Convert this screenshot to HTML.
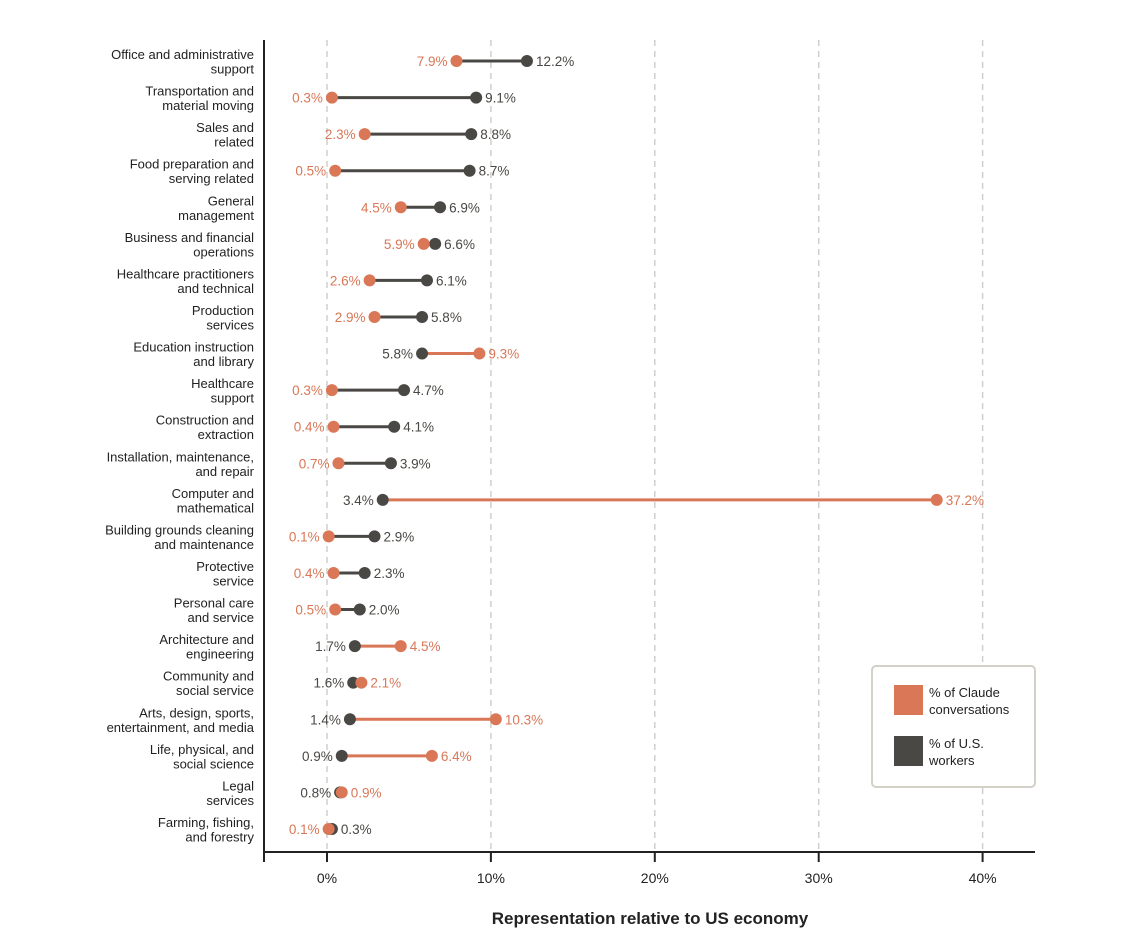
<!DOCTYPE html>
<html><head><meta charset="utf-8"><style>
body{margin:0;background:#fff;}
svg{display:block;font-family:"Liberation Sans",sans-serif;}
</style></head><body>
<svg id="chart" width="1148" height="948"></svg>
<script>
const categories=[["Office and administrative","support"],["Transportation and","material moving"],["Sales and","related"],["Food preparation and","serving related"],["General","management"],["Business and financial","operations"],["Healthcare practitioners","and technical"],["Production","services"],["Education instruction","and library"],["Healthcare","support"],["Construction and","extraction"],["Installation, maintenance,","and repair"],["Computer and","mathematical"],["Building grounds cleaning","and maintenance"],["Protective","service"],["Personal care","and service"],["Architecture and","engineering"],["Community and","social service"],["Arts, design, sports,","entertainment, and media"],["Life, physical, and","social science"],["Legal","services"],["Farming, fishing,","and forestry"]];
const claudeValues=[7.9,0.3,2.3,0.5,4.5,5.9,2.6,2.9,9.3,0.3,0.4,0.7,37.2,0.1,0.4,0.5,4.5,2.1,10.3,6.4,0.9,0.1];
const workerValues=[12.2,9.1,8.8,8.7,6.9,6.6,6.1,5.8,5.8,4.7,4.1,3.9,3.4,2.9,2.3,2.0,1.7,1.6,1.4,0.9,0.8,0.3];
const xTicks=[0,10,20,30,40];
const ORANGE="#d97757",GRAY="#4a4844";
const NS="http://www.w3.org/2000/svg";
const svg=document.getElementById('chart');
const x=v=>327+v*16.39;
const y=i=>61+i*36.57;
function el(t,a,p){const e=document.createElementNS(NS,t);for(const k in a)e.setAttribute(k,a[k]);(p||svg).appendChild(e);return e;}
// grid
xTicks.forEach(t=>{
 const g=el('line',{x1:x(t),x2:x(t),y1:40,y2:852,stroke:'#d0cfcb','stroke-width':1.5,'stroke-dasharray':'6,5'});
 
 
 const tk=el('line',{x1:x(t),x2:x(t),y1:852,y2:862,stroke:'#222','stroke-width':2});
 
 
 const tl=el('text',{x:x(t),y:883,'text-anchor':'middle','font-size':14,fill:'#222'});
 tl.textContent=t+'%';
 
 
});
const ax=el('line',{x1:264,x2:1035,y1:852,y2:852,stroke:'#222','stroke-width':2});


const ay=el('line',{x1:264,x2:264,y1:40,y2:862,stroke:'#222','stroke-width':2});


const xt=el('text',{x:650,y:924,'text-anchor':'middle','font-size':17,'font-weight':'bold',fill:'#222'});
xt.textContent='Representation relative to US economy';


categories.forEach((c,i)=>{
 const cy=y(i),cv=claudeValues[i],wv=workerValues[i];
 const lab=el('text',{x:254,'text-anchor':'end','font-size':13,fill:'#222'});
 
 
 c.forEach((s,j)=>{const ts=el('tspan',{x:254,y:cy-2+j*14.5},lab);ts.textContent=s;});
 const up=cv>wv;
 const ln=el('line',{x1:x(cv),x2:x(wv),y1:cy,y2:cy,stroke:up?ORANGE:GRAY,'stroke-width':3});
 
 
 const d1=el('circle',{cx:x(wv),cy:cy,r:6,fill:GRAY});
 
 
 const d2=el('circle',{cx:x(cv),cy:cy,r:6,fill:ORANGE});
 
 
 const lo=Math.min(cv,wv),hi=Math.max(cv,wv);
 const l1=el('text',{x:x(lo)-9,y:cy+5,'text-anchor':'end','font-size':13.5,fill:up?GRAY:ORANGE});
 l1.textContent=(up?wv:cv).toFixed(1)+'%';
 
 
 const l2=el('text',{x:x(hi)+9,y:cy+5,'text-anchor':'start','font-size':13.5,fill:up?ORANGE:GRAY});
 l2.textContent=(up?cv:wv).toFixed(1)+'%';
 
 
});
// legend
const lg=el('g',{});


el('rect',{x:872,y:666,width:163,height:121,rx:4,fill:'#fff',stroke:'#d3d0c8','stroke-width':2},lg);
el('rect',{x:894,y:685,width:29,height:30,fill:ORANGE},lg);
el('rect',{x:894,y:736,width:29,height:30,fill:GRAY},lg);
[["% of Claude","conversations",697],["% of U.S.","workers",748]].forEach(a=>{
 const t=el('text',{x:929,'font-size':13,fill:'#222'},lg);
 
 
 const s1=el('tspan',{x:929,y:a[2]},t);s1.textContent=a[0];
 const s2=el('tspan',{x:929,y:a[2]+17},t);s2.textContent=a[1];
});
</script>
</body></html>
